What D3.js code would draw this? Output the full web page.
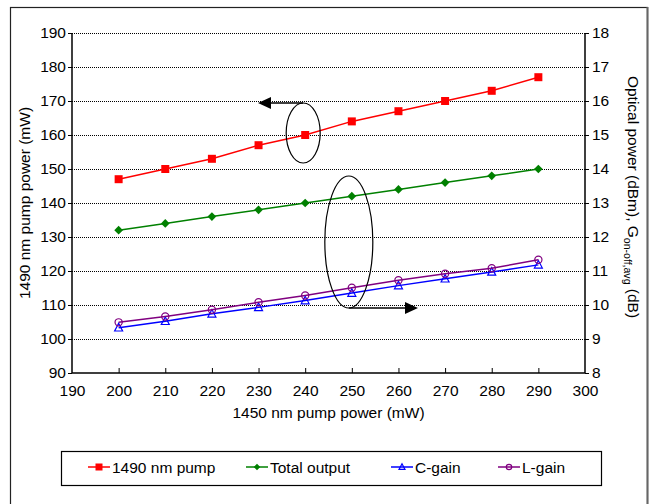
<!DOCTYPE html>
<html>
<head>
<meta charset="utf-8">
<script src="https://cdn.jsdelivr.net/npm/d3@7/dist/d3.min.js"></script>
<style>
	body { margin:0; background:#fff; }
	svg text { font-family:"Liberation Sans", Arial, sans-serif; fill:#000; }
</style>
</head>
<body>
<svg id="chart" width="650" height="504"></svg>
<script>

//------------------------------------------------------------------
//	data
//------------------------------------------------------------------
var pump1450	= [200,210,220,230,240,250,260,270,280,290];
var pump1490	= [147,150,153,157,160,164,167,170,173,177];			// left axis (mW)
var totalOut	= [12.2,12.4,12.6,12.8,13.0,13.2,13.4,13.6,13.8,14.0];	// right axis (dBm)
var cGain		= [9.33,9.52,9.74,9.93,10.13,10.35,10.57,10.77,10.97,11.18];
var lGain		= [9.49,9.66,9.86,10.08,10.28,10.51,10.73,10.92,11.08,11.33];
var xTickVals	= [190,200,210,220,230,240,250,260,270,280,290,300];
var yLTickVals	= [90,100,110,120,130,140,150,160,170,180,190];
var yRTickVals	= [8,9,10,11,12,13,14,15,16,17,18];
var seriesNames	= ['1490 nm pump','Total output','C-gain','L-gain'];


//------------------------------------------------------------------
//	layout
//------------------------------------------------------------------
var svg	= d3.select('#chart'),
		m		= { l:72, r:585, t:33, b:373 },
		fs	= 15.5,
		x		= d3.scaleLinear().domain([190,300]).range([m.l,m.r]),
		yL	= d3.scaleLinear().domain([90,190]).range([m.b,m.t]),
		yR	= d3.scaleLinear().domain([8,18]).range([m.b,m.t]);

var series = [
	{ name:seriesNames[0], vals:pump1490,	y:yL, color:'#ff0000', sym:'square' },
	{ name:seriesNames[1], vals:totalOut,	y:yR, color:'#008000', sym:'diamond' },
	{ name:seriesNames[2], vals:cGain,		y:yR, color:'#0000ff', sym:'triangle' },
	{ name:seriesNames[3], vals:lGain,		y:yR, color:'#800080', sym:'circle' },
];

// outer frame
svg.append('rect')
	.attr('x',10.5).attr('y',7.5).attr('width',637).attr('height',520)
	.attr('fill','none').attr('stroke','#222').attr('stroke-width',1.2);
svg.append('line')
	.attr('x1',647.5).attr('x2',647.5).attr('y1',7).attr('y2',504)
	.attr('stroke','#666').attr('stroke-width',2);

// grid
svg.append('g').selectAll('line').data(yLTickVals.slice(1))
	.enter().append('line')
		.attr('x1',m.l).attr('x2',m.r)
		.attr('y1',d=>yL(d)+0.5).attr('y2',d=>yL(d)+0.5)
		.attr('stroke','#000').attr('stroke-width',1)
		.attr('stroke-dasharray','1,1');

// plot frame (left, bottom, right)
svg.append('path')
	.attr('d','M'+m.l+','+m.t+'V'+m.b+'H'+m.r+'V'+m.t)
	.attr('fill','none').attr('stroke','#000').attr('stroke-width',1.5);


//------------------------------------------------------------------
//	axes
//------------------------------------------------------------------
function styleAxis(g)	{
	g.select('.domain').remove();
	g.selectAll('.tick line').attr('stroke','#000');
	g.selectAll('.tick text').attr('font-size',fs).attr('font-family','"Liberation Sans", Arial, sans-serif').attr('fill','#000');
}

svg.append('g')
	.attr('transform','translate('+m.l+',0)')
	.call(d3.axisLeft(yL).tickValues(yLTickVals).tickSize(4).tickPadding(2).tickFormat(d3.format('d')))
	.call(styleAxis);

svg.append('g')
	.attr('transform','translate('+m.r+',0)')
	.call(d3.axisRight(yR).tickValues(yRTickVals).tickSize(4).tickPadding(3).tickFormat(d3.format('d')))
	.call(styleAxis);

svg.append('g')
	.attr('transform','translate(0,'+m.b+')')
	.call(d3.axisBottom(x).tickValues(xTickVals).tickSizeInner(-5).tickSizeOuter(0).tickPadding(12).tickFormat(d3.format('d')))
	.call(styleAxis)
	.call(g=>g.selectAll('.tick').filter(d=>d==190||d==300).select('line').remove());

// axis titles
svg.append('text')
	.attr('x',(m.l+m.r)/2).attr('y',418)
	.attr('text-anchor','middle').attr('font-size',fs)
	.text('1450 nm pump power (mW)');

svg.append('text')
	.attr('transform','translate(30,'+((m.t+m.b)/2)+') rotate(-90)')
	.attr('text-anchor','middle').attr('font-size',fs)
	.text('1490 nm pump power (mW)');

var rt = svg.append('text')
	.attr('transform','translate(628,197) rotate(90)')
	.attr('text-anchor','middle').attr('font-size',fs);
rt.append('tspan').text('Optical power (dBm), G');
rt.append('tspan').attr('font-size',fs*0.68).attr('dy',4).text('on-off,avg');
rt.append('tspan').attr('dy',-4).text(' (dB)');


//------------------------------------------------------------------
//	series
//------------------------------------------------------------------
function marker(sel,sym,color,s)	{
	if (sym=='square')
		sel.append('rect').attr('x',-s/2).attr('y',-s/2).attr('width',s).attr('height',s).attr('fill',color);
	else if (sym=='diamond')
		sel.append('path').attr('d',d3.symbol(d3.symbolDiamond2,s*s*0.75)()).attr('fill',color);
	else if (sym=='triangle')
		sel.append('path').attr('d','M0,'+(-s*0.55)+'L'+(s*0.5)+','+(s*0.4)+'L'+(-s*0.5)+','+(s*0.4)+'Z')
			.attr('fill','none').attr('stroke',color).attr('stroke-width',1.2);
	else
		sel.append('circle').attr('r',s*0.45).attr('fill','none').attr('stroke',color).attr('stroke-width',1.2);
}

var line = d3.line();

series.forEach(function(s)	{
	var pts = s.vals.map((v,i)=>[x(pump1450[i]), s.y(v)]);
	svg.append('path')
		.attr('d',line(pts))
		.attr('fill','none').attr('stroke',s.color).attr('stroke-width',1.5);
	svg.append('g').selectAll('g').data(pts)
		.enter().append('g')
			.attr('transform',d=>'translate('+d[0]+','+d[1]+')')
			.each(function(){ marker(d3.select(this), s.sym, s.color, 8); });
});


//------------------------------------------------------------------
//	annotations
//------------------------------------------------------------------
var e1 = { cx:x(240)-2, cy:yL(160)-2, rx:17, ry:30 },
		e2 = { cx:x(250)-3, cy:yL(130)+5, rx:24, ry:66 };

[e1,e2].forEach(function(e){
	svg.append('ellipse')
		.attr('cx',e.cx).attr('cy',e.cy).attr('rx',e.rx).attr('ry',e.ry)
		.attr('fill','none').attr('stroke','#000').attr('stroke-width',1.2);
});

// left arrow from top of ellipse 1
svg.append('line')
	.attr('x1',e1.cx).attr('x2',270).attr('y1',e1.cy-e1.ry).attr('y2',e1.cy-e1.ry)
	.attr('stroke','#000').attr('stroke-width',1.5);
svg.append('path')
	.attr('d','M258,'+(e1.cy-e1.ry)+'l13,-6v12z').attr('fill','#000');

// right arrow from bottom of ellipse 2
svg.append('line')
	.attr('x1',e2.cx).attr('x2',406).attr('y1',e2.cy+e2.ry).attr('y2',e2.cy+e2.ry)
	.attr('stroke','#000').attr('stroke-width',1.5);
svg.append('path')
	.attr('d','M418,'+(e2.cy+e2.ry)+'l-13,-6v12z').attr('fill','#000');


//------------------------------------------------------------------
//	legend
//------------------------------------------------------------------
svg.append('rect')
	.attr('x',61.5).attr('y',451.5).attr('width',540).attr('height',34)
	.attr('fill','#fff').attr('stroke','#000').attr('stroke-width',1.2);

var legX = [88,246,391,498];

series.forEach(function(s,i)	{
	var g = svg.append('g').attr('transform','translate('+legX[i]+',467)');
	g.append('line').attr('x1',0).attr('x2',22).attr('stroke',s.color).attr('stroke-width',1.5);
	marker(g.append('g').attr('transform','translate(11,0)'), s.sym, s.color, s.sym=='square' ? 7 : 6);
	g.append('text').attr('x',24).attr('y',6).attr('font-size',fs).text(s.name);
});

</script>
</body>
</html>
